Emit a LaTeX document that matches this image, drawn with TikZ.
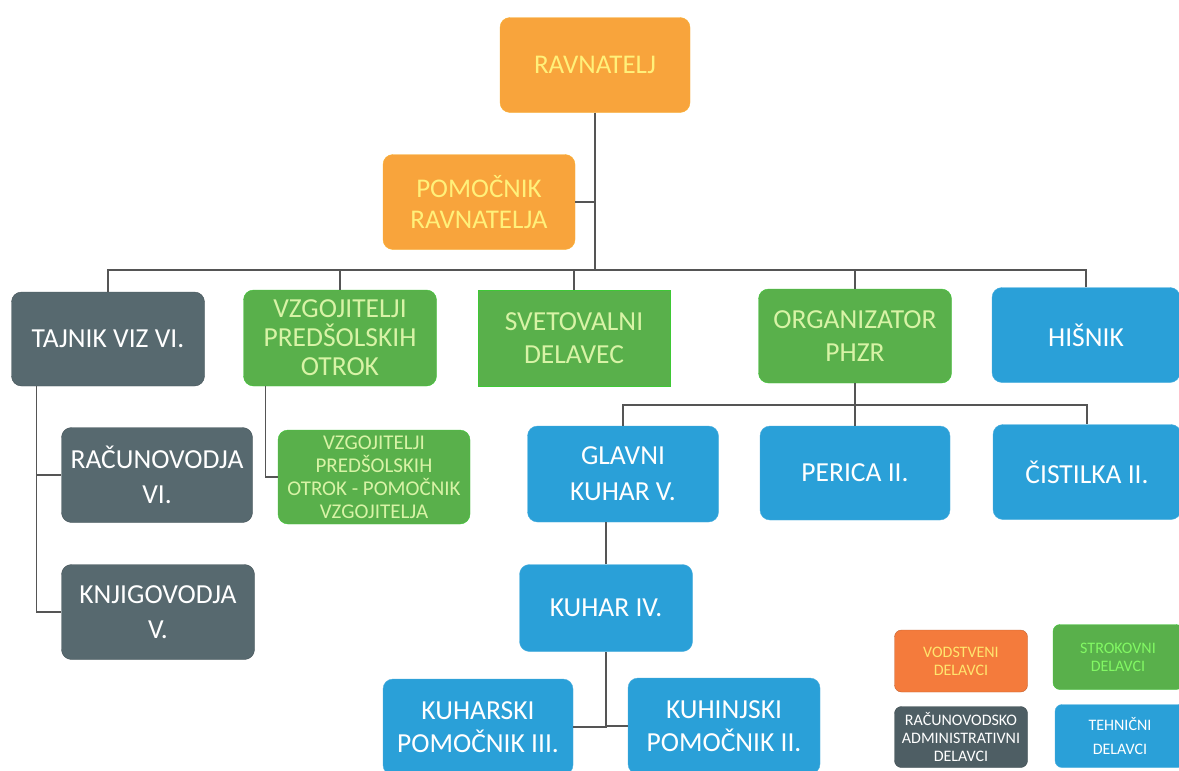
\documentclass[tikz,border=0pt]{standalone}
\usepackage{fontspec}
\setmainfont{Carlito}
\definecolor{orgA}{HTML}{F8A43C}
\definecolor{orgL}{HTML}{F47B3C}
\definecolor{orgT}{HTML}{FFF07A}
\definecolor{grA}{HTML}{57696F}
\definecolor{gnA}{HTML}{59B04B}
\definecolor{gnT}{HTML}{D8F3A6}
\definecolor{blA}{HTML}{2AA0D8}
\definecolor{lnC}{HTML}{555555}
\tikzset{
  box/.style={rounded corners=10pt, align=center, inner sep=0pt, minimum width=192pt, minimum height=95pt,
    font=\fontsize{27.5}{33}\selectfont},
  orbox/.style={box, fill=orgA, draw=orgA!85!yellow, text=orgT, font=\fontsize{27}{31}\selectfont},
  grbox/.style={box, fill=grA, draw=grA!80!black, text=white},
  gnbox/.style={box, fill=gnA, draw=gnA!70!green, text=gnT},
  blbox/.style={box, fill=blA, draw=blA!85!white, text=white},
  legbox/.style={rounded corners=7pt, align=center, inner sep=0pt, minimum width=133pt, minimum height=62pt,
    font=\fontsize{16}{18}\selectfont},
  conn/.style={draw=lnC, line width=1.1pt}
}
\begin{document}
\begin{tikzpicture}[x=1pt,y=-1pt]
\useasboundingbox (0,0) rectangle (1179,771);
\clip (0,0) rectangle (1179,771);
\fill[white] (0,0) rectangle (1179,771);

% top
\node[orbox, minimum width=190pt] (rav) at (595,65) {RAVNATELJ};
\node[orbox] (pom) at (479,202) {POMOČNIK\\RAVNATELJA};
\coordinate (busM) at (595,270);

% second row
\node[grbox, minimum width=193pt, minimum height=94pt] (taj) at (108,339) {TAJNIK VIZ VI.};
\node[gnbox, minimum width=193pt, minimum height=96pt, font=\fontsize{27.5}{29}\selectfont] (vz) at (340,338) {VZGOJITELJI\\PREDŠOLSKIH\\OTROK};
\node[gnbox, rounded corners=0pt, minimum width=192pt, minimum height=96pt] (sv) at (574,338) {SVETOVALNI\\DELAVEC};
\node[gnbox, minimum width=193pt, minimum height=94pt] (org) at (855,336) {ORGANIZATOR\\PHZR};
\node[blbox, minimum width=188pt, minimum height=95pt] (his) at (1086,335) {HIŠNIK};

% left column
\node[grbox, minimum width=191pt, minimum height=95pt, font=\fontsize{27.5}{35}\selectfont] (rac) at (157,475) {RAČUNOVODJA\\VI.};
\node[grbox, minimum width=193pt, minimum height=95pt, font=\fontsize{27.5}{35}\selectfont] (knj) at (158,612) {KNJIGOVODJA\\V.};

% vzgojitelji sub
\node[gnbox, minimum width=192pt, minimum height=94pt, font=\fontsize{21}{23}\selectfont] (vzp) at (374,477) {VZGOJITELJI\\PREDŠOLSKIH\\OTROK - POMOČNIK\\VZGOJITELJA};

% third row
\node[blbox, minimum width=191pt, minimum height=96pt] (glk) at (623,474) {GLAVNI\\[3pt]KUHAR V.};
\node[blbox, minimum width=190pt, minimum height=94pt] (per) at (855,473) {PERICA II.};
\node[blbox, minimum width=188pt, minimum height=95pt] (cis) at (1087,472) {ČISTILKA II.};
\coordinate (obus) at (855,405);

\node[blbox, minimum width=173pt, minimum height=87pt] (kuh) at (606,608) {KUHAR IV.};
\node[blbox, minimum width=190pt, minimum height=96pt] (kp3) at (478,727) {KUHARSKI\\POMOČNIK III.};
\node[blbox, minimum width=192pt, minimum height=96pt] (kp2) at (724,726) {KUHINJSKI\\POMOČNIK II.};

% legend
\node[legbox, fill=orgL, draw=orgL!80!black, text=orgT!90!orange] (lv) at (961,661) {VODSTVENI\\DELAVCI};
\node[legbox, fill=gnA, draw=gnA!70!green, text=gnT!60!green, minimum width=130pt, minimum height=65pt] (ls) at (1118,657) {STROKOVNI\\DELAVCI};
\node[legbox, fill=grA!90!black, draw=grA!70!black, text=white, minimum height=61pt] (lr) at (961,737) {RAČUNOVODSKO\\ADMINISTRATIVNI\\DELAVCI};
\node[legbox, fill=blA, draw=blA!85!white, text=white, minimum width=130pt, minimum height=63pt] (lt) at (1120,736) {TEHNIČNI\\[6pt]DELAVCI};

% connectors
\draw[conn] (rav.south) -- (busM);
\draw[conn] (pom.east) -- (pom.east -| busM);
\draw[conn] (taj.north) |- (busM);
\draw[conn] (vz.north) |- (busM);
\draw[conn] (sv.north) |- (busM);
\draw[conn] (org.north) |- (busM);
\draw[conn] (his.north) |- (busM);

\draw[conn] ([xshift=25pt]taj.south west) |- (rac.west);
\draw[conn] ([xshift=25pt]taj.south west) |- (knj.west);
\draw[conn] ([xshift=22pt]vz.south west) |- (vzp.west);

\draw[conn] (org.south) -- (per.north);
\draw[conn] (glk.north) |- (obus) -| (cis.north);
\draw[conn] (kuh.north) -- (kuh.north |- glk.south);
\draw[conn] (kp3.east) -| (kuh.south);
\draw[conn] (kp2.west) -| (kuh.south);
\end{tikzpicture}
\end{document}
